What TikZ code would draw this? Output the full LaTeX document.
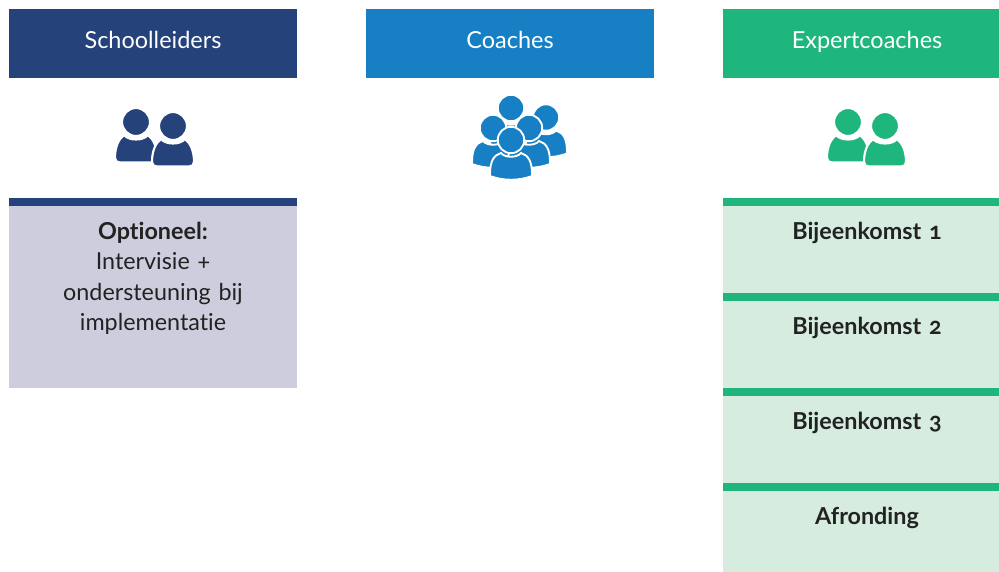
\documentclass[tikz,border=0pt]{standalone}
\usepackage{fontspec}
\setmainfont[Ligatures=NoCommon, Numbers=OldStyle]{Lato}
\usetikzlibrary{positioning}
\definecolor{navy}{HTML}{25427A}
\definecolor{sky}{HTML}{1780C4}
\definecolor{emerald}{HTML}{1FB67D}
\definecolor{lilac}{HTML}{CDCDDD}
\definecolor{mint}{HTML}{D6ECDF}
\definecolor{ink}{HTML}{222222}

\begin{document}
\begin{tikzpicture}[
    x=0.75pt, y=-0.75pt,
    node distance=0pt,
    header/.style={rectangle, fill=#1, text=white, minimum width=216pt, minimum height=51.75pt, inner sep=0pt, outer sep=0pt, text height=13pt, text depth=5pt, font=\fontsize{17.6}{21}\selectfont},
    topbar/.style={rectangle, fill=#1, minimum width=216pt, minimum height=6pt, inner sep=0pt, outer sep=0pt},
    panel/.style={rectangle, fill=#1, minimum width=216pt, inner sep=0pt, outer sep=0pt},
    caption/.style={text=ink, inner sep=0pt, text width=200pt, align=center, font=\fontsize{17.5}{22.7}\selectfont},
    person/.pic={
        \fill[draw=white, line width=1.6pt] (-21,36) .. controls (-21,24) and (-17,17) .. (-12,13) .. controls (-7,19) and (7,19) .. (12,13) .. controls (17,17) and (21,24) .. (21,36) .. controls (21,39) and (19,40.5) .. (16,40.5) -- (-16,40.5) .. controls (-19,40.5) and (-21,39) .. (-21,36) -- cycle;
        \fill[draw=white, line width=1.6pt] (0,0) circle (14);
    },
    coach/.pic={
        \fill[draw=white, line width=1.4pt] (-21,34) .. controls (-21,21) and (-17,15) .. (-10,13) .. controls (-6,18) and (6,18) .. (10,13) .. controls (17,15) and (21,21) .. (21,34) -- (21,36) .. controls (8,41) and (-8,41) .. (-21,36) -- cycle;
        \fill[draw=white, line width=1.4pt] (0,0) circle (13.2);
    }
]
\path[use as bounding box, clip] (0,0) rectangle (999,571);

% Headers
\node (schoolleiders) [header=navy] at (153,43.5) {Schoolleiders};
\node (coaches) [header=sky] at (510,43.5) {Coaches};
\node (expertcoaches) [header=emerald] at (867,43.5) {Expertcoaches};

% Icons
\pic[navy] at (136,122) {person};
\pic[navy] at (173,126) {person};
\pic[sky] at (511,108) {coach};
\pic[sky] at (546,117.5) {coach};
\pic[sky] at (493,128) {coach};
\pic[sky] at (529,128) {coach};
\pic[sky] at (511,140) {coach};
\pic[emerald] at (848,122) {person};
\pic[emerald] at (885,126) {person};

% Panels
\node (optionbar) [topbar=navy] at (153,202) {};
\node (optionpanel) [panel=lilac, minimum height=136.5pt, below=of optionbar] {};

\node (firstbar) [topbar=emerald] at (867,202) {};
\node (firstpanel) [panel=mint, minimum height=65.25pt, below=of firstbar] {};
\node (secondbar) [topbar=emerald, below=of firstpanel] {};
\node (secondpanel) [panel=mint, minimum height=65.25pt, below=of secondbar] {};
\node (thirdbar) [topbar=emerald, below=of secondpanel] {};
\node (thirdpanel) [panel=mint, minimum height=65.25pt, below=of thirdbar] {};
\node (fourthbar) [topbar=emerald, below=of thirdpanel] {};
\node (fourthpanel) [panel=mint, minimum height=65.25pt, below=of fourthbar] {};

% Texts
\node (optiontext) [caption, below=12pt of optionbar.south] {\textbf{Optioneel:}\\Intervisie +\\ondersteuning bij\\implementatie};
\node (firsttext) [caption, below=12pt of firstbar.south] {\textbf{Bijeenkomst 1}};
\node (secondtext) [caption, below=12pt of secondbar.south] {\textbf{Bijeenkomst 2}};
\node (thirdtext) [caption, below=12pt of thirdbar.south] {\textbf{Bijeenkomst 3}};
\node (fourthtext) [caption, below=12pt of fourthbar.south] {\textbf{Afronding}};

\end{tikzpicture}
\end{document}
